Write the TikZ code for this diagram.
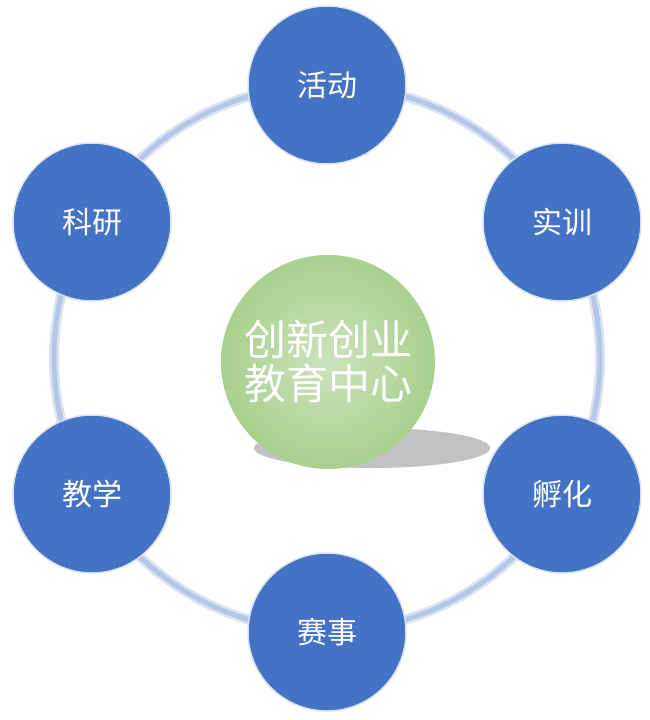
\documentclass[tikz,border=0pt]{standalone}
\usepackage{fontspec}
\newfontfamily\cjk{Noto Sans CJK SC}
\usetikzlibrary{shadings}
\definecolor{nodeblue}{HTML}{4472C4}
\definecolor{ringblue}{HTML}{B4C7E7}
\definecolor{green1}{HTML}{A9D08E}
\begin{document}
\begin{tikzpicture}[x=1pt,y=-1pt,
  sat/.style={circle,minimum size=158pt,inner sep=0pt,fill=nodeblue,draw=white!80!nodeblue,line width=1.5pt,text=white,font=\cjk\fontsize{30}{36}\selectfont},
  hub/.style={circle,minimum size=214pt,inner sep=0pt,ball color=green1!85!white,shading=radial,inner color=green1!60!white,outer color=green1,text=white,font=\cjk\fontsize{42}{50}\selectfont,align=center}]
\useasboundingbox (0,0) rectangle (650,720);
\coordinate (o) at (327,358);
\draw[ringblue!50,line width=10pt] (o) circle (273);
\draw[ringblue,line width=5pt] (o) circle (273);
\fill[black!40,opacity=0.6] (372,448) ellipse (118 and 20);
\node[hub] (c) at (328,362) {创新创业\\[-6pt]教育中心};
\node[sat] (a) at (327,85) {活动};
\node[sat] (b) at (562,222) {实训};
\node[sat] (d) at (562,494) {孵化};
\node[sat] (e) at (327,632) {赛事};
\node[sat] (f) at (92,494) {教学};
\node[sat] (g) at (92,222) {科研};
\end{tikzpicture}
\end{document}
